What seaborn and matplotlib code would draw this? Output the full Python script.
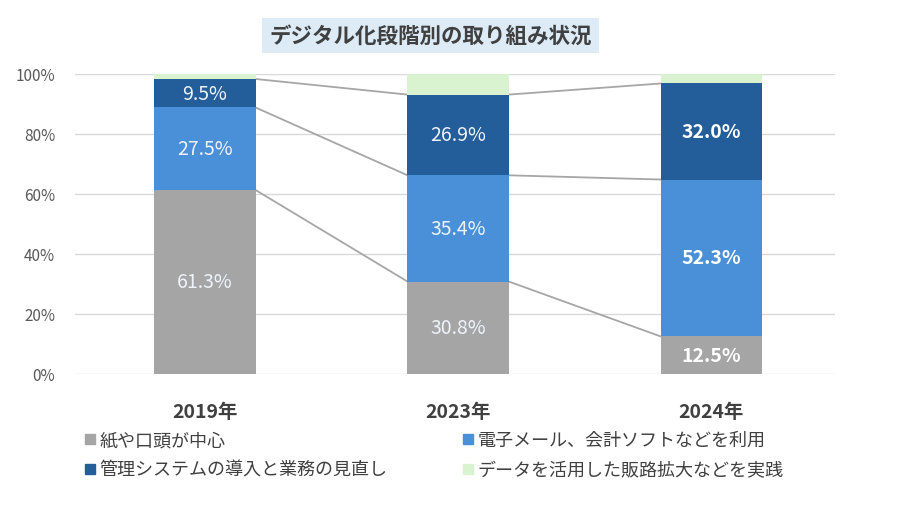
import numpy as np
import matplotlib
matplotlib.use('Agg')
import matplotlib.pyplot as plt
from matplotlib.lines import Line2D
import seaborn as sns

sns.set_style('white')
plt.rcParams['font.family'] = ['Noto Sans CJK JP', 'DejaVu Sans']

# data
years = ['2019年', '2023年', '2024年']
series_names = ['紙や口頭が中心', '電子メール、会計ソフトなどを利用',
                '管理システムの導入と業務の見直し', 'データを活用した販路拡大などを実践']
paper = [61.3, 30.8, 12.5]
email = [27.5, 35.4, 52.3]
system = [9.5, 26.9, 32.0]
data_use = [1.7, 6.9, 3.2]
colors = ['#A5A5A5', '#4A90D9', '#235D9A', '#D9F2D0']

values = [paper, email, system, data_use]

fig, ax = plt.subplots(figsize=(9.12, 5.06), dpi=100)
fig.subplots_adjust(left=0.082, right=0.916, bottom=0.259, top=0.852)

bottom = np.zeros(len(years))
tops = []
for i, vals in enumerate(values):
    sns.barplot(x=years, y=vals, bottom=bottom, color=colors[i], width=0.4,
                saturation=1, linewidth=0, ax=ax, zorder=3)
    bottom = bottom + np.array(vals)
    tops.append(bottom.copy())

# labels inside bars
bottom = np.zeros(len(years))
for i, vals in enumerate(values[:3]):
    for j, v in enumerate(vals):
        bold = j == 2
        ax.text(j, bottom[j] + v / 2, f'{v:.1f}%', ha='center', va='center',
                fontsize=14, color='white' if bold else '#EEF3FA',
                fontweight='bold' if bold else 'normal', zorder=5)
    bottom = bottom + np.array(vals)

# series connector lines
for t in tops[:3]:
    for j in range(len(years) - 1):
        ax.plot([j + 0.2, j + 0.8], [t[j], t[j + 1]], color='#A6A6A6', lw=1.3, zorder=2)

ax.set_xlim(-0.514, 2.49)
ax.set_ylim(0, 100)
ax.set_yticks(range(0, 101, 20))
ax.set_yticklabels([f'{v}%' for v in range(0, 101, 20)], fontsize=11, color='#595959')
ax.tick_params(axis='x', labelsize=14, labelcolor='#404040', length=0, pad=20)
ax.tick_params(axis='y', length=0, pad=14)
for lbl in ax.get_xticklabels():
    lbl.set_fontweight('bold')
ax.yaxis.grid(True, color='#D9D9D9', lw=1, zorder=0)
ax.set_axisbelow(True)
for s in ax.spines.values():
    s.set_visible(False)
ax.set_xlabel('')

fig.text(0.472, 0.928, 'デジタル化段階別の取り組み状況', ha='center', va='center',
         fontsize=15.5, fontweight='bold', color='#404040',
         bbox=dict(facecolor='#DDEBF7', edgecolor='none', pad=5))

order = [0, 2, 1, 3]
handles = [Line2D([], [], marker='s', ls='', color=colors[k], markersize=7) for k in order]
labels = [series_names[k] for k in order]
fig.legend(handles, labels, ncol=2, loc='upper left', bbox_to_anchor=(0.075, 0.178),
           frameon=False, fontsize=13, handlelength=0.6, handletextpad=0.2,
           columnspacing=4.2, labelspacing=0.65, labelcolor='#404040')

fig.savefig('out.png', dpi=100)
